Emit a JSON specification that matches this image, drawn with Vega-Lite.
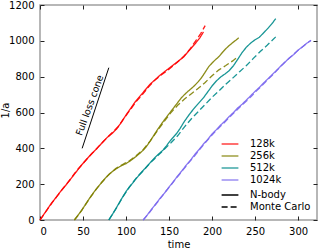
{
  "$schema": "https://vega.github.io/schema/vega-lite/v6.json",
  "width": 277,
  "height": 215,
  "autosize": {"type": "none"},
  "padding": {"left": 40, "top": 5, "right": 12, "bottom": 30},
  "background": "white",
  "config": {
    "font": "DejaVu Sans",
    "view": {"stroke": "#a0a0a0", "strokeWidth": 1.5},
    "axis": {
      "domain": false,
      "grid": false,
      "tickSize": -4,
      "tickColor": "#222",
      "tickWidth": 1,
      "labelFont": "DejaVu Sans",
      "labelFontSize": 10,
      "labelColor": "#000",
      "labelPadding": 10,
      "titleFont": "DejaVu Sans",
      "titleFontSize": 10,
      "titleFontWeight": "normal",
      "titleColor": "#000"
    },
    "legend": {
      "labelFont": "DejaVu Sans",
      "labelFontSize": 10,
      "labelColor": "#000"
    }
  },
  "datasets": {
    "curves": [
      {"t":0,"v":0,"run":"128k","method":"N-body"},{"t":6,"v":42,"run":"128k","method":"N-body"},{"t":13,"v":92,"run":"128k","method":"N-body"},{"t":19,"v":128,"run":"128k","method":"N-body"},{"t":25,"v":166,"run":"128k","method":"N-body"},{"t":31,"v":200,"run":"128k","method":"N-body"},{"t":36,"v":231,"run":"128k","method":"N-body"},{"t":42,"v":268,"run":"128k","method":"N-body"},{"t":48,"v":305,"run":"128k","method":"N-body"},{"t":54,"v":338,"run":"128k","method":"N-body"},{"t":60,"v":370,"run":"128k","method":"N-body"},{"t":66,"v":398,"run":"128k","method":"N-body"},{"t":72,"v":430,"run":"128k","method":"N-body"},{"t":78,"v":460,"run":"128k","method":"N-body"},{"t":84,"v":484,"run":"128k","method":"N-body"},{"t":89,"v":508,"run":"128k","method":"N-body"},{"t":95,"v":548,"run":"128k","method":"N-body"},{"t":100,"v":586,"run":"128k","method":"N-body"},{"t":105,"v":620,"run":"128k","method":"N-body"},{"t":110,"v":655,"run":"128k","method":"N-body"},{"t":116,"v":690,"run":"128k","method":"N-body"},{"t":122,"v":724,"run":"128k","method":"N-body"},{"t":128,"v":758,"run":"128k","method":"N-body"},{"t":134,"v":784,"run":"128k","method":"N-body"},{"t":140,"v":810,"run":"128k","method":"N-body"},{"t":147,"v":836,"run":"128k","method":"N-body"},{"t":153,"v":858,"run":"128k","method":"N-body"},{"t":160,"v":884,"run":"128k","method":"N-body"},{"t":167,"v":910,"run":"128k","method":"N-body"},{"t":173,"v":944,"run":"128k","method":"N-body"},{"t":180,"v":982,"run":"128k","method":"N-body"},{"t":186,"v":1018,"run":"128k","method":"N-body"},{"t":190,"v":1050,"run":"128k","method":"N-body"},
      {"t":0,"v":0,"run":"128k","method":"Monte Carlo"},{"t":7,"v":48,"run":"128k","method":"Monte Carlo"},{"t":14,"v":96,"run":"128k","method":"Monte Carlo"},{"t":21,"v":140,"run":"128k","method":"Monte Carlo"},{"t":28,"v":184,"run":"128k","method":"Monte Carlo"},{"t":35,"v":226,"run":"128k","method":"Monte Carlo"},{"t":42,"v":272,"run":"128k","method":"Monte Carlo"},{"t":49,"v":310,"run":"128k","method":"Monte Carlo"},{"t":56,"v":348,"run":"128k","method":"Monte Carlo"},{"t":63,"v":384,"run":"128k","method":"Monte Carlo"},{"t":70,"v":420,"run":"128k","method":"Monte Carlo"},{"t":77,"v":455,"run":"128k","method":"Monte Carlo"},{"t":84,"v":488,"run":"128k","method":"Monte Carlo"},{"t":91,"v":522,"run":"128k","method":"Monte Carlo"},{"t":98,"v":570,"run":"128k","method":"Monte Carlo"},{"t":105,"v":616,"run":"128k","method":"Monte Carlo"},{"t":112,"v":662,"run":"128k","method":"Monte Carlo"},{"t":119,"v":700,"run":"128k","method":"Monte Carlo"},{"t":126,"v":742,"run":"128k","method":"Monte Carlo"},{"t":133,"v":778,"run":"128k","method":"Monte Carlo"},{"t":140,"v":806,"run":"128k","method":"Monte Carlo"},{"t":147,"v":830,"run":"128k","method":"Monte Carlo"},{"t":154,"v":858,"run":"128k","method":"Monte Carlo"},{"t":161,"v":886,"run":"128k","method":"Monte Carlo"},{"t":168,"v":918,"run":"128k","method":"Monte Carlo"},{"t":175,"v":958,"run":"128k","method":"Monte Carlo"},{"t":181,"v":1000,"run":"128k","method":"Monte Carlo"},{"t":187,"v":1042,"run":"128k","method":"Monte Carlo"},{"t":192,"v":1085,"run":"128k","method":"Monte Carlo"},
      {"t":40,"v":0,"run":"256k","method":"N-body"},{"t":44,"v":25,"run":"256k","method":"N-body"},{"t":48,"v":52,"run":"256k","method":"N-body"},{"t":52,"v":80,"run":"256k","method":"N-body"},{"t":56,"v":110,"run":"256k","method":"N-body"},{"t":60,"v":138,"run":"256k","method":"N-body"},{"t":64,"v":164,"run":"256k","method":"N-body"},{"t":68,"v":188,"run":"256k","method":"N-body"},{"t":72,"v":212,"run":"256k","method":"N-body"},{"t":76,"v":234,"run":"256k","method":"N-body"},{"t":80,"v":253,"run":"256k","method":"N-body"},{"t":84,"v":270,"run":"256k","method":"N-body"},{"t":88,"v":284,"run":"256k","method":"N-body"},{"t":92,"v":296,"run":"256k","method":"N-body"},{"t":96,"v":306,"run":"256k","method":"N-body"},{"t":100,"v":315,"run":"256k","method":"N-body"},{"t":104,"v":327,"run":"256k","method":"N-body"},{"t":108,"v":341,"run":"256k","method":"N-body"},{"t":112,"v":356,"run":"256k","method":"N-body"},{"t":116,"v":372,"run":"256k","method":"N-body"},{"t":120,"v":390,"run":"256k","method":"N-body"},{"t":124,"v":412,"run":"256k","method":"N-body"},{"t":128,"v":440,"run":"256k","method":"N-body"},{"t":132,"v":470,"run":"256k","method":"N-body"},{"t":136,"v":500,"run":"256k","method":"N-body"},{"t":140,"v":528,"run":"256k","method":"N-body"},{"t":144,"v":555,"run":"256k","method":"N-body"},{"t":148,"v":580,"run":"256k","method":"N-body"},{"t":152,"v":605,"run":"256k","method":"N-body"},{"t":156,"v":630,"run":"256k","method":"N-body"},{"t":160,"v":655,"run":"256k","method":"N-body"},{"t":164,"v":680,"run":"256k","method":"N-body"},{"t":168,"v":700,"run":"256k","method":"N-body"},{"t":172,"v":718,"run":"256k","method":"N-body"},{"t":176,"v":734,"run":"256k","method":"N-body"},{"t":180,"v":752,"run":"256k","method":"N-body"},{"t":184,"v":772,"run":"256k","method":"N-body"},{"t":188,"v":796,"run":"256k","method":"N-body"},{"t":192,"v":825,"run":"256k","method":"N-body"},{"t":196,"v":855,"run":"256k","method":"N-body"},{"t":200,"v":876,"run":"256k","method":"N-body"},{"t":204,"v":895,"run":"256k","method":"N-body"},{"t":208,"v":912,"run":"256k","method":"N-body"},{"t":212,"v":935,"run":"256k","method":"N-body"},{"t":216,"v":956,"run":"256k","method":"N-body"},{"t":220,"v":974,"run":"256k","method":"N-body"},{"t":224,"v":990,"run":"256k","method":"N-body"},{"t":228,"v":1005,"run":"256k","method":"N-body"},{"t":231,"v":1017,"run":"256k","method":"N-body"},
      {"t":40,"v":0,"run":"256k","method":"Monte Carlo"},{"t":48,"v":50,"run":"256k","method":"Monte Carlo"},{"t":56,"v":108,"run":"256k","method":"Monte Carlo"},{"t":64,"v":164,"run":"256k","method":"Monte Carlo"},{"t":72,"v":211,"run":"256k","method":"Monte Carlo"},{"t":80,"v":254,"run":"256k","method":"Monte Carlo"},{"t":88,"v":287,"run":"256k","method":"Monte Carlo"},{"t":96,"v":310,"run":"256k","method":"Monte Carlo"},{"t":104,"v":331,"run":"256k","method":"Monte Carlo"},{"t":112,"v":360,"run":"256k","method":"Monte Carlo"},{"t":120,"v":393,"run":"256k","method":"Monte Carlo"},{"t":128,"v":440,"run":"256k","method":"Monte Carlo"},{"t":136,"v":495,"run":"256k","method":"Monte Carlo"},{"t":144,"v":548,"run":"256k","method":"Monte Carlo"},{"t":152,"v":598,"run":"256k","method":"Monte Carlo"},{"t":160,"v":640,"run":"256k","method":"Monte Carlo"},{"t":168,"v":675,"run":"256k","method":"Monte Carlo"},{"t":176,"v":705,"run":"256k","method":"Monte Carlo"},{"t":184,"v":735,"run":"256k","method":"Monte Carlo"},{"t":192,"v":768,"run":"256k","method":"Monte Carlo"},{"t":200,"v":805,"run":"256k","method":"Monte Carlo"},{"t":208,"v":838,"run":"256k","method":"Monte Carlo"},{"t":216,"v":862,"run":"256k","method":"Monte Carlo"},{"t":224,"v":888,"run":"256k","method":"Monte Carlo"},{"t":229,"v":908,"run":"256k","method":"Monte Carlo"},
      {"t":80,"v":0,"run":"512k","method":"N-body"},{"t":84,"v":30,"run":"512k","method":"N-body"},{"t":88,"v":62,"run":"512k","method":"N-body"},{"t":92,"v":95,"run":"512k","method":"N-body"},{"t":96,"v":128,"run":"512k","method":"N-body"},{"t":101,"v":166,"run":"512k","method":"N-body"},{"t":106,"v":196,"run":"512k","method":"N-body"},{"t":110,"v":220,"run":"512k","method":"N-body"},{"t":115,"v":250,"run":"512k","method":"N-body"},{"t":120,"v":277,"run":"512k","method":"N-body"},{"t":125,"v":303,"run":"512k","method":"N-body"},{"t":130,"v":330,"run":"512k","method":"N-body"},{"t":136,"v":360,"run":"512k","method":"N-body"},{"t":143,"v":390,"run":"512k","method":"N-body"},{"t":147,"v":414,"run":"512k","method":"N-body"},{"t":151,"v":440,"run":"512k","method":"N-body"},{"t":155,"v":462,"run":"512k","method":"N-body"},{"t":159,"v":484,"run":"512k","method":"N-body"},{"t":163,"v":512,"run":"512k","method":"N-body"},{"t":167,"v":544,"run":"512k","method":"N-body"},{"t":171,"v":572,"run":"512k","method":"N-body"},{"t":175,"v":598,"run":"512k","method":"N-body"},{"t":180,"v":628,"run":"512k","method":"N-body"},{"t":185,"v":655,"run":"512k","method":"N-body"},{"t":190,"v":682,"run":"512k","method":"N-body"},{"t":195,"v":715,"run":"512k","method":"N-body"},{"t":200,"v":748,"run":"512k","method":"N-body"},{"t":205,"v":776,"run":"512k","method":"N-body"},{"t":210,"v":798,"run":"512k","method":"N-body"},{"t":215,"v":815,"run":"512k","method":"N-body"},{"t":220,"v":834,"run":"512k","method":"N-body"},{"t":225,"v":862,"run":"512k","method":"N-body"},{"t":230,"v":898,"run":"512k","method":"N-body"},{"t":235,"v":935,"run":"512k","method":"N-body"},{"t":240,"v":965,"run":"512k","method":"N-body"},{"t":245,"v":988,"run":"512k","method":"N-body"},{"t":250,"v":1006,"run":"512k","method":"N-body"},{"t":255,"v":1020,"run":"512k","method":"N-body"},{"t":260,"v":1045,"run":"512k","method":"N-body"},{"t":265,"v":1070,"run":"512k","method":"N-body"},{"t":270,"v":1098,"run":"512k","method":"N-body"},{"t":274,"v":1124,"run":"512k","method":"N-body"},
      {"t":80,"v":0,"run":"512k","method":"Monte Carlo"},{"t":88,"v":60,"run":"512k","method":"Monte Carlo"},{"t":96,"v":126,"run":"512k","method":"Monte Carlo"},{"t":104,"v":185,"run":"512k","method":"Monte Carlo"},{"t":112,"v":235,"run":"512k","method":"Monte Carlo"},{"t":120,"v":275,"run":"512k","method":"Monte Carlo"},{"t":128,"v":318,"run":"512k","method":"Monte Carlo"},{"t":136,"v":355,"run":"512k","method":"Monte Carlo"},{"t":144,"v":392,"run":"512k","method":"Monte Carlo"},{"t":152,"v":430,"run":"512k","method":"Monte Carlo"},{"t":160,"v":470,"run":"512k","method":"Monte Carlo"},{"t":168,"v":520,"run":"512k","method":"Monte Carlo"},{"t":176,"v":565,"run":"512k","method":"Monte Carlo"},{"t":184,"v":605,"run":"512k","method":"Monte Carlo"},{"t":192,"v":645,"run":"512k","method":"Monte Carlo"},{"t":200,"v":685,"run":"512k","method":"Monte Carlo"},{"t":208,"v":720,"run":"512k","method":"Monte Carlo"},{"t":216,"v":758,"run":"512k","method":"Monte Carlo"},{"t":224,"v":792,"run":"512k","method":"Monte Carlo"},{"t":232,"v":828,"run":"512k","method":"Monte Carlo"},{"t":240,"v":862,"run":"512k","method":"Monte Carlo"},{"t":248,"v":902,"run":"512k","method":"Monte Carlo"},{"t":256,"v":940,"run":"512k","method":"Monte Carlo"},{"t":264,"v":975,"run":"512k","method":"Monte Carlo"},{"t":274,"v":1022,"run":"512k","method":"Monte Carlo"},
      {"t":120,"v":0,"run":"1024k","method":"N-body"},{"t":125,"v":30,"run":"1024k","method":"N-body"},{"t":130,"v":62,"run":"1024k","method":"N-body"},{"t":135,"v":92,"run":"1024k","method":"N-body"},{"t":140,"v":124,"run":"1024k","method":"N-body"},{"t":145,"v":152,"run":"1024k","method":"N-body"},{"t":150,"v":184,"run":"1024k","method":"N-body"},{"t":155,"v":214,"run":"1024k","method":"N-body"},{"t":160,"v":246,"run":"1024k","method":"N-body"},{"t":165,"v":275,"run":"1024k","method":"N-body"},{"t":170,"v":306,"run":"1024k","method":"N-body"},{"t":175,"v":334,"run":"1024k","method":"N-body"},{"t":180,"v":366,"run":"1024k","method":"N-body"},{"t":185,"v":394,"run":"1024k","method":"N-body"},{"t":190,"v":424,"run":"1024k","method":"N-body"},{"t":195,"v":450,"run":"1024k","method":"N-body"},{"t":200,"v":480,"run":"1024k","method":"N-body"},{"t":205,"v":504,"run":"1024k","method":"N-body"},{"t":210,"v":530,"run":"1024k","method":"N-body"},{"t":215,"v":552,"run":"1024k","method":"N-body"},{"t":220,"v":578,"run":"1024k","method":"N-body"},{"t":225,"v":600,"run":"1024k","method":"N-body"},{"t":230,"v":626,"run":"1024k","method":"N-body"},{"t":235,"v":646,"run":"1024k","method":"N-body"},{"t":240,"v":670,"run":"1024k","method":"N-body"},{"t":245,"v":694,"run":"1024k","method":"N-body"},{"t":250,"v":718,"run":"1024k","method":"N-body"},{"t":255,"v":740,"run":"1024k","method":"N-body"},{"t":260,"v":765,"run":"1024k","method":"N-body"},{"t":265,"v":788,"run":"1024k","method":"N-body"},{"t":270,"v":812,"run":"1024k","method":"N-body"},{"t":275,"v":835,"run":"1024k","method":"N-body"},{"t":280,"v":860,"run":"1024k","method":"N-body"},{"t":285,"v":882,"run":"1024k","method":"N-body"},{"t":290,"v":905,"run":"1024k","method":"N-body"},{"t":295,"v":924,"run":"1024k","method":"N-body"},{"t":300,"v":948,"run":"1024k","method":"N-body"},{"t":305,"v":966,"run":"1024k","method":"N-body"},{"t":310,"v":986,"run":"1024k","method":"N-body"},{"t":315,"v":1003,"run":"1024k","method":"N-body"},
      {"t":120,"v":0,"run":"1024k","method":"Monte Carlo"},{"t":126,"v":34,"run":"1024k","method":"Monte Carlo"},{"t":132,"v":72,"run":"1024k","method":"Monte Carlo"},{"t":138,"v":108,"run":"1024k","method":"Monte Carlo"},{"t":144,"v":146,"run":"1024k","method":"Monte Carlo"},{"t":150,"v":182,"run":"1024k","method":"Monte Carlo"},{"t":156,"v":218,"run":"1024k","method":"Monte Carlo"},{"t":162,"v":254,"run":"1024k","method":"Monte Carlo"},{"t":168,"v":290,"run":"1024k","method":"Monte Carlo"},{"t":174,"v":326,"run":"1024k","method":"Monte Carlo"},{"t":180,"v":360,"run":"1024k","method":"Monte Carlo"},{"t":186,"v":396,"run":"1024k","method":"Monte Carlo"},{"t":192,"v":430,"run":"1024k","method":"Monte Carlo"},{"t":198,"v":464,"run":"1024k","method":"Monte Carlo"},{"t":204,"v":495,"run":"1024k","method":"Monte Carlo"},{"t":210,"v":524,"run":"1024k","method":"Monte Carlo"},{"t":216,"v":552,"run":"1024k","method":"Monte Carlo"},{"t":222,"v":582,"run":"1024k","method":"Monte Carlo"},{"t":228,"v":610,"run":"1024k","method":"Monte Carlo"},{"t":234,"v":638,"run":"1024k","method":"Monte Carlo"},{"t":240,"v":664,"run":"1024k","method":"Monte Carlo"},{"t":246,"v":692,"run":"1024k","method":"Monte Carlo"},{"t":252,"v":722,"run":"1024k","method":"Monte Carlo"},{"t":258,"v":750,"run":"1024k","method":"Monte Carlo"},{"t":264,"v":780,"run":"1024k","method":"Monte Carlo"},{"t":270,"v":808,"run":"1024k","method":"Monte Carlo"},{"t":276,"v":838,"run":"1024k","method":"Monte Carlo"},{"t":282,"v":868,"run":"1024k","method":"Monte Carlo"},{"t":288,"v":896,"run":"1024k","method":"Monte Carlo"},{"t":294,"v":922,"run":"1024k","method":"Monte Carlo"},{"t":300,"v":948,"run":"1024k","method":"Monte Carlo"},{"t":306,"v":970,"run":"1024k","method":"Monte Carlo"},{"t":312,"v":992,"run":"1024k","method":"Monte Carlo"},{"t":315,"v":1002,"run":"1024k","method":"Monte Carlo"}
    ],
    "cone": [{"x": 49, "y": 400, "x2": 80, "y2": 850, "label": "Full loss cone", "tx": 58, "ty": 640}]
  },
  "layer": [
    {
      "data": {"name": "curves"},
      "mark": {"type": "line", "strokeWidth": 1.3, "strokeOpacity": 0.9},
      "encoding": {
        "x": {"field": "t", "type": "quantitative", "scale": {"domain": [0, 322], "nice": false},
              "axis": {"orient": "bottom", "title": "time", "values": [0, 50, 100, 150, 200, 250, 300], "titleY": 24, "titleBaseline": "middle"}},
        "y": {"field": "v", "type": "quantitative", "scale": {"domain": [0, 1200], "nice": false},
              "axis": {"orient": "left", "title": "1/a", "format": "d", "values": [0, 200, 400, 600, 800, 1000, 1200], "titleX": -35, "titleY": 105, "titleAngle": -90, "titleBaseline": "middle", "titleAlign": "center"}},
        "color": {"field": "run", "type": "nominal",
                  "scale": {"domain": ["128k", "256k", "512k", "1024k"], "range": ["#ff0000", "#808000", "#008b8b", "#7b68ee"]},
                  "legend": {"orient": "none", "legendX": 185, "legendY": 134, "title": null, "padding": 0, "rowPadding": 2,
                             "symbolType": "M-2.8,0H2.8", "symbolSize": 36, "symbolStrokeWidth": 1.5, "symbolOpacity": 0.75, "labelOffset": 15}},
        "strokeDash": {"field": "method", "type": "nominal",
                       "scale": {"domain": ["N-body", "Monte Carlo"], "range": [[1, 0], [6, 3]]},
                       "legend": {"orient": "none", "legendX": 185, "legendY": 185, "title": null, "padding": 0, "rowPadding": 2,
                                  "symbolType": "M-2.8,0H2.8", "symbolSize": 36, "symbolStrokeWidth": 1.5, "symbolStrokeColor": "#000", "labelOffset": 15}},
        "detail": {"field": "run"}
      }
    },
    {
      "data": {"name": "cone"},
      "mark": {"type": "rule", "color": "#000", "strokeWidth": 1},
      "encoding": {
        "x": {"field": "x", "type": "quantitative", "axis": {"orient": "top", "labels": false, "title": null, "values": [0, 50, 100, 150, 200, 250, 300]}},
        "y": {"field": "y", "type": "quantitative", "axis": {"orient": "right", "labels": false, "title": null, "values": [0, 200, 400, 600, 800, 1000, 1200]}},
        "x2": {"field": "x2"},
        "y2": {"field": "y2"}
      }
    },
    {
      "data": {"name": "cone"},
      "mark": {"type": "text", "angle": -70, "fontSize": 9.5, "font": "DejaVu Sans", "color": "#000", "align": "center", "baseline": "middle"},
      "encoding": {
        "x": {"field": "tx", "type": "quantitative", "axis": null},
        "y": {"field": "ty", "type": "quantitative", "axis": null},
        "text": {"field": "label"}
      }
    }
  ],
  "resolve": {"axis": {"x": "independent", "y": "independent"}}
}
